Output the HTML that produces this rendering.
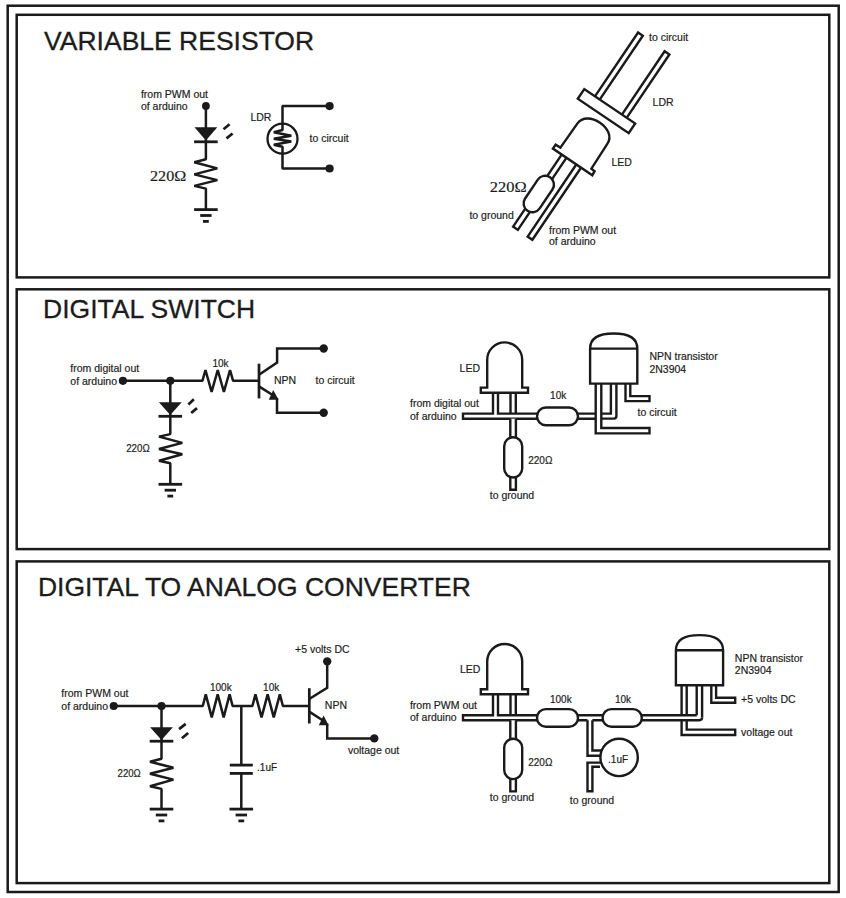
<!DOCTYPE html>
<html><head><meta charset="utf-8">
<style>
html,body{margin:0;padding:0;background:#fff;}
body{width:846px;height:898px;overflow:hidden;}
svg{display:block;}
text{fill:#1c1c1c;stroke:#1c1c1c;stroke-width:0.18px;}
.h{font-family:"Liberation Sans",sans-serif;font-size:26.5px;stroke-width:0.3px;}
</style></head>
<body>
<svg width="846" height="898" viewBox="0 0 846 898">
<rect x="0" y="0" width="846" height="898" fill="#fff"/>
<g fill="none" stroke="#1a1a1a" stroke-width="2.5">
<rect x="7.7" y="5.7" width="831" height="886.3"/>
<rect x="16.7" y="14.8" width="812.6" height="262.6"/>
<rect x="16.7" y="289.3" width="812.6" height="259.8"/>
<rect x="16.7" y="561.4" width="812.6" height="321.7"/>
</g>
<text class="h" x="44.1" y="50.1">VARIABLE RESISTOR</text>
<text class="h" x="43.1" y="318.3">DIGITAL SWITCH</text>
<text class="h" x="37.9" y="596.3">DIGITAL TO ANALOG CONVERTER</text>
<g fill="none" stroke="#1a1a1a" stroke-width="2.5" stroke-linejoin="bevel">
<polyline points="205.9,105.9 205.9,159.3 194.3,162.2 217.3,168.4 194.3,174.4 217.3,180.1 194.3,185.9 205.9,188.6 205.9,209.6"/>
<polyline points="329.6,106.1 282.5,106.1 282.5,130 273.8,132.2 291.3,135.7 273.8,138.8 291.3,141.4 273.8,144.7 282.5,146.8 282.5,168.5 329.6,168.5"/>
<circle cx="282.5" cy="138.7" r="15" stroke-width="2.3"/>
</g>
<circle cx="205.9" cy="105.9" r="3.9" fill="#1a1a1a"/>
<polygon points="194.50,127.30 217.30,127.30 205.90,140.60" fill="#1a1a1a"/>
<line x1="194.1" y1="141.8" x2="217.70000000000002" y2="141.8" stroke="#1a1a1a" stroke-width="2.8"/>
<line x1="223.5" y1="129.2" x2="229.6" y2="124.3" stroke="#1a1a1a" stroke-width="2.7"/>
<line x1="226.5" y1="138.4" x2="232.6" y2="133.5" stroke="#1a1a1a" stroke-width="2.7"/>
<g stroke="#1a1a1a" stroke-width="2.8">
<line x1="194.1" y1="209.6" x2="217.70000000000002" y2="209.6"/>
<line x1="200.20000000000002" y1="215.5" x2="211.6" y2="215.5"/>
<line x1="203.0" y1="221.4" x2="208.8" y2="221.4"/>
</g>
<circle cx="329.6" cy="106.1" r="4.1" fill="#1a1a1a"/>
<circle cx="329.6" cy="168.5" r="4.1" fill="#1a1a1a"/>
<text x="140.90" y="97.80" style="font-family:'Liberation Sans';font-size:10.5px" >from PWM out</text>
<text x="140.90" y="110.30" style="font-family:'Liberation Sans';font-size:10.5px" >of arduino</text>
<text x="150.00" y="180.60" style="font-family:'Liberation Serif';font-size:15.2px"  textLength="36.2" lengthAdjust="spacingAndGlyphs">220Ω</text>
<text x="250.40" y="120.80" style="font-family:'Liberation Sans';font-size:10.5px" >LDR</text>
<text x="309.60" y="142.10" style="font-family:'Liberation Sans';font-size:10.5px" >to circuit</text>
<g transform="translate(606.5,111.1) rotate(34)" fill="#fff" stroke="#1a1a1a" stroke-width="2.4">
<rect x="-17.75" y="-82.8" width="5.7" height="78"/>
<rect x="14.75" y="-82.1" width="5.7" height="77"/>
<rect x="-30.7" y="-5.8" width="61.4" height="11.6"/>
<rect x="-12.8" y="60" width="5.7" height="88"/>
<rect x="4.8" y="60" width="5.7" height="88.1"/>
<rect x="-18.6" y="86.4" width="17.6" height="40.4" rx="8.8"/>
</g>
<path d="M552.9,148.6 L555.6,144.7 L560.4,147.6 L577.3,123.6 C587.6,108.9 617.5,129.1 607.3,143.9 L591.4,168.7 L594.6,171.2 L592.3,175.2 Z" fill="#fff" stroke="#1a1a1a" stroke-width="2.4" stroke-linejoin="miter"/>
<text x="649.10" y="41.20" style="font-family:'Liberation Sans';font-size:10.5px" >to circuit</text>
<text x="652.60" y="106.30" style="font-family:'Liberation Sans';font-size:10.5px" >LDR</text>
<text x="611.40" y="165.70" style="font-family:'Liberation Sans';font-size:10.5px" >LED</text>
<text x="489.80" y="191.70" style="font-family:'Liberation Serif';font-size:15.2px"  textLength="36.8" lengthAdjust="spacingAndGlyphs">220Ω</text>
<text x="469.40" y="218.50" style="font-family:'Liberation Sans';font-size:10.5px" >to ground</text>
<text x="549.00" y="233.90" style="font-family:'Liberation Sans';font-size:10.5px" >from PWM out</text>
<text x="549.00" y="245.30" style="font-family:'Liberation Sans';font-size:10.5px" >of arduino</text>
<g fill="none" stroke="#1a1a1a" stroke-width="2.5" stroke-linejoin="bevel">
<polyline points="122.90,380.80 202.40,380.80 205.47,370.00 211.61,391.90 217.75,370.00 223.89,391.90 230.03,370.00 233.10,380.80 259.00,380.80"/>
<polyline points="170.3,380.8 170.3,434.1 159,436.6 182.3,442.9 159,449 182.3,454.3 159,460.8 170.3,463.3 170.3,484.3"/>
<polyline points="259,374.8 277.1,362.6 277.1,348.5 323.7,348.5" stroke-linejoin="miter"/>
<polyline points="259,386.4 273,395.2"/>
<polyline points="277,398 277,412.8 323.7,412.8" stroke-linejoin="miter"/>
</g>
<line x1="259" y1="363.7" x2="259" y2="398.4" stroke="#1a1a1a" stroke-width="2.7"/>
<polygon points="278.6,399.8 273.2,390.0 268.8,399.8" fill="#1a1a1a"/>
<circle cx="122.9" cy="380.8" r="4.1" fill="#1a1a1a"/>
<circle cx="170.3" cy="380.8" r="4.1" fill="#1a1a1a"/>
<polygon points="158.90,402.30 181.70,402.30 170.30,415.10" fill="#1a1a1a"/>
<line x1="158.5" y1="416.3" x2="182.10000000000002" y2="416.3" stroke="#1a1a1a" stroke-width="2.8"/>
<line x1="188.4" y1="404.5" x2="193.9" y2="399.2" stroke="#1a1a1a" stroke-width="2.7"/>
<line x1="191.2" y1="413" x2="197" y2="408.1" stroke="#1a1a1a" stroke-width="2.7"/>
<g stroke="#1a1a1a" stroke-width="2.8">
<line x1="158.5" y1="484.3" x2="182.10000000000002" y2="484.3"/>
<line x1="164.60000000000002" y1="490.2" x2="176.0" y2="490.2"/>
<line x1="167.4" y1="496.1" x2="173.20000000000002" y2="496.1"/>
</g>
<circle cx="323.7" cy="348.5" r="4.2" fill="#1a1a1a"/>
<circle cx="323.7" cy="412.8" r="4.2" fill="#1a1a1a"/>
<text x="70.30" y="372.30" style="font-family:'Liberation Sans';font-size:10.5px" >from digital out</text>
<text x="70.30" y="384.70" style="font-family:'Liberation Sans';font-size:10.5px" >of arduino</text>
<text x="212.40" y="366.80" style="font-family:'Liberation Sans';font-size:10px" >10k</text>
<text x="274.00" y="384.20" style="font-family:'Liberation Sans';font-size:10.5px" >NPN</text>
<text x="315.60" y="384.30" style="font-family:'Liberation Sans';font-size:10.5px" >to circuit</text>
<text x="126.20" y="451.60" style="font-family:'Liberation Sans';font-size:10.2px"  textLength="23.6" lengthAdjust="spacingAndGlyphs">220Ω</text>
<g transform="translate(0,0)" fill="#fff" stroke="#1a1a1a" stroke-width="2.4">
<path fill="none" d="M510.5,392.7 V413.6 M515.8,392.7 V413.6"/>
<path fill="none" d="M463,413.6 H493 V392.7 M498,392.7 V413.6 H537 M463,418.7 H537 M463,412.4 V419.9"/>
<path d="M510.3,418.7 V489.8 H515.9 V418.7"/>
<rect x="504.2" y="437.2" width="18" height="40.3" rx="9"/>
<rect x="537" y="407.5" width="41" height="17.7" rx="8.85"/>
<path d="M480.8,387.6 H487.2 V359.9 A17.5,17.5 0 0 1 522.2,359.9 V387.6 H528 V392.7 H480.8 Z"/>
</g>
<g fill="#fff" stroke="#1a1a1a" stroke-width="2.4">
<path fill="none" d="M578,413.6 H595.7 M578,418.7 H595.7"/>
<path d="M590.1,383.6 V348.6 C590.1,338.8 598.4,333.5 613.7,333.5 C629,333.5 637.3,338.8 637.3,348.6 V383.6 Z M590.1,348.6 H637.3"/>
<path fill="none" d="M595.7,383.6 V433.4 H649.5 V428 H601.3 V383.6"/>
<path fill="none" d="M610.9,383.6 V413.6 H601.3 M616.4,383.6 V416 Q616.4,418.6 613.8,418.6 H601.3"/>
<path fill="none" d="M625.5,383.6 V401.1 H649.5 V396.1 H630.3 V383.6"/>
</g>
<text x="459.60" y="372.10" style="font-family:'Liberation Sans';font-size:10.5px" >LED</text>
<text x="410.00" y="407.40" style="font-family:'Liberation Sans';font-size:10.5px" >from digital out</text>
<text x="410.00" y="419.60" style="font-family:'Liberation Sans';font-size:10.5px" >of arduino</text>
<text x="550.10" y="398.80" style="font-family:'Liberation Sans';font-size:10px" >10k</text>
<text x="528.20" y="463.90" style="font-family:'Liberation Sans';font-size:10.6px"  textLength="24.2" lengthAdjust="spacingAndGlyphs">220Ω</text>
<text x="489.80" y="499.40" style="font-family:'Liberation Sans';font-size:10.5px" >to ground</text>
<text x="649.40" y="360.40" style="font-family:'Liberation Sans';font-size:10.5px" >NPN transistor</text>
<text x="649.40" y="372.80" style="font-family:'Liberation Sans';font-size:10.5px" >2N3904</text>
<text x="637.60" y="416.30" style="font-family:'Liberation Sans';font-size:10.5px" >to circuit</text>
<g fill="none" stroke="#1a1a1a" stroke-width="2.5" stroke-linejoin="bevel">
<polyline points="113.70,706.00 202.80,706.00 205.78,694.40 211.74,717.40 217.70,694.40 223.66,717.40 229.62,694.40 232.60,706.00 252.40,706.00 255.45,694.40 261.55,717.40 267.65,694.40 273.75,717.40 279.85,694.40 282.90,706.00 309.30,706.00"/>
<polyline points="161.5,706 161.5,758.7 150,761.7 173.4,767.7 150,773.8 173.4,779.6 150,786.3 161.5,788.9 161.5,809.1"/>
<line x1="241.3" y1="706" x2="241.3" y2="765.1"/>
<line x1="241.3" y1="773.4" x2="241.3" y2="809.1"/>
<polyline points="309.6,698.7 327.2,687.9 327.2,661.4" stroke-linejoin="miter"/>
<polyline points="309.6,711.9 323,720.5"/>
<polyline points="327.2,723.5 327.2,738.4 374.3,738.4" stroke-linejoin="miter"/>
</g>
<g stroke="#1a1a1a" stroke-width="2.8">
<line x1="229.8" y1="765.1" x2="252.8" y2="765.1"/>
<line x1="229.8" y1="773.4" x2="252.8" y2="773.4"/>
</g>
<line x1="309.3" y1="688.2" x2="309.3" y2="723.5" stroke="#1a1a1a" stroke-width="2.7"/>
<polygon points="328.6,725.3 323.6,715.5 318.8,725.3" fill="#1a1a1a"/>
<circle cx="113.7" cy="706" r="4.1" fill="#1a1a1a"/>
<circle cx="161.5" cy="706" r="4.1" fill="#1a1a1a"/>
<polygon points="150.10,727.20 172.90,727.20 161.50,740.00" fill="#1a1a1a"/>
<line x1="149.7" y1="741.2" x2="173.3" y2="741.2" stroke="#1a1a1a" stroke-width="2.8"/>
<line x1="179.1" y1="729.1" x2="185.7" y2="723.9" stroke="#1a1a1a" stroke-width="2.7"/>
<line x1="181.9" y1="738.2" x2="188.2" y2="733" stroke="#1a1a1a" stroke-width="2.7"/>
<g stroke="#1a1a1a" stroke-width="2.8">
<line x1="149.7" y1="809.1" x2="173.3" y2="809.1"/>
<line x1="155.8" y1="815.0" x2="167.2" y2="815.0"/>
<line x1="158.6" y1="820.9" x2="164.4" y2="820.9"/>
</g>
<g stroke="#1a1a1a" stroke-width="2.8">
<line x1="229.5" y1="809.1" x2="253.10000000000002" y2="809.1"/>
<line x1="235.60000000000002" y1="815.0" x2="247.0" y2="815.0"/>
<line x1="238.4" y1="820.9" x2="244.20000000000002" y2="820.9"/>
</g>
<circle cx="327.2" cy="661.4" r="4.2" fill="#1a1a1a"/>
<circle cx="374.3" cy="738.4" r="4.2" fill="#1a1a1a"/>
<text x="61.30" y="697.30" style="font-family:'Liberation Sans';font-size:10.5px" >from PWM out</text>
<text x="61.30" y="709.80" style="font-family:'Liberation Sans';font-size:10.5px" >of arduino</text>
<text x="117.60" y="776.50" style="font-family:'Liberation Sans';font-size:10.3px"  textLength="23.2" lengthAdjust="spacingAndGlyphs">220Ω</text>
<text x="210.00" y="691.40" style="font-family:'Liberation Sans';font-size:10px" >100k</text>
<text x="263.10" y="691.40" style="font-family:'Liberation Sans';font-size:10px" >10k</text>
<text x="257.10" y="771.20" style="font-family:'Liberation Sans';font-size:10px" >.1uF</text>
<text x="295.00" y="652.60" style="font-family:'Liberation Sans';font-size:10.5px" >+5 volts DC</text>
<text x="324.80" y="708.90" style="font-family:'Liberation Sans';font-size:10.5px" >NPN</text>
<text x="347.90" y="753.60" style="font-family:'Liberation Sans';font-size:10.5px" >voltage out</text>
<g transform="translate(0,301.6)" fill="#fff" stroke="#1a1a1a" stroke-width="2.4">
<path fill="none" d="M510.5,392.7 V413.6 M515.8,392.7 V413.6"/>
<path fill="none" d="M463,413.6 H493 V392.7 M498,392.7 V413.6 H537 M463,418.7 H537 M463,412.4 V419.9"/>
<path d="M510.3,418.7 V489.8 H515.9 V418.7"/>
<rect x="504.2" y="437.2" width="18" height="40.3" rx="9"/>
<rect x="537" y="407.5" width="41" height="17.7" rx="8.85"/>
<path d="M480.8,387.6 H487.2 V359.9 A17.5,17.5 0 0 1 522.2,359.9 V387.6 H528 V392.7 H480.8 Z"/>
</g>
<g fill="#fff" stroke="#1a1a1a" stroke-width="2.4">
<path fill="none" d="M578,715.3 H602.6 M578,720.3 H587.5 M592.4,720.3 H602.6"/>
<path fill="none" d="M587.5,720.3 V755.7 H600 M592.4,720.3 V750.5 H601 M601,762.6 H587.5 V791.2 H592.4 V766.8 H600"/>
<circle cx="619.1" cy="757.4" r="18.7"/>
<rect x="602.6" y="709.1" width="39.2" height="17.7" rx="8.85"/>
<path fill="none" d="M641.8,715.2 H696.7 M641.8,720.2 H699.5 Q702.1,720.2 702.1,717.6"/>
<path d="M675.9,685.2 V650.2 C675.9,640.4 684.2,635.1 699.5,635.1 C714.8,635.1 723.1,640.4 723.1,650.2 V685.2 Z M675.9,650.2 H723.1"/>
<path fill="none" d="M681.6,685.2 V715.2 M686.7,685.2 V715.2 M681.6,720.2 V735 H735.2 V729.6 H686.7 V720.2"/>
<path fill="none" d="M696.7,685.2 V715.2 M702.1,685.2 V717.6"/>
<path fill="none" d="M711.3,685.2 V702.7 H735.2 V697.7 H716.1 V685.2"/>
</g>
<text x="459.90" y="673.40" style="font-family:'Liberation Sans';font-size:10.5px" >LED</text>
<text x="409.90" y="709.00" style="font-family:'Liberation Sans';font-size:10.5px" >from PWM out</text>
<text x="409.90" y="721.40" style="font-family:'Liberation Sans';font-size:10.5px" >of arduino</text>
<text x="528.20" y="765.50" style="font-family:'Liberation Sans';font-size:10.6px"  textLength="24.2" lengthAdjust="spacingAndGlyphs">220Ω</text>
<text x="489.80" y="800.90" style="font-family:'Liberation Sans';font-size:10.5px" >to ground</text>
<text x="550.00" y="703.10" style="font-family:'Liberation Sans';font-size:10px" >100k</text>
<text x="614.90" y="703.10" style="font-family:'Liberation Sans';font-size:10px" >10k</text>
<text x="608.10" y="762.60" style="font-family:'Liberation Sans';font-size:10px" >.1uF</text>
<text x="569.80" y="803.80" style="font-family:'Liberation Sans';font-size:10.5px" >to ground</text>
<text x="734.80" y="661.50" style="font-family:'Liberation Sans';font-size:10.5px" >NPN transistor</text>
<text x="734.80" y="673.80" style="font-family:'Liberation Sans';font-size:10.5px" >2N3904</text>
<text x="741.10" y="703.00" style="font-family:'Liberation Sans';font-size:10.5px" >+5 volts DC</text>
<text x="741.10" y="735.50" style="font-family:'Liberation Sans';font-size:10.5px" >voltage out</text>
</svg>
</body></html>
